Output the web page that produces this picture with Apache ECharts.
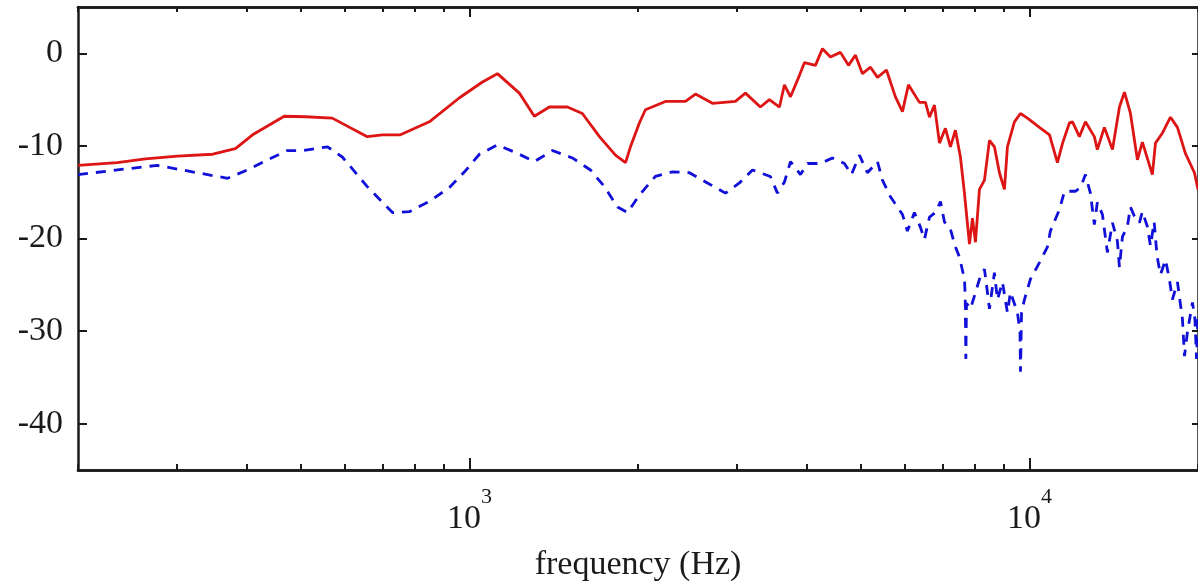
<!DOCTYPE html>
<html>
<head>
<meta charset="utf-8">
<script src="https://cdn.jsdelivr.net/npm/echarts@6/dist/echarts.min.js"></script>
<style>
  html, body { margin: 0; padding: 0; background: #fff; }
  #chart { width: 1198px; height: 587px; }
</style>
</head>
<body>
<div id="chart"></div>
<script>
// solid red curve
const redFreq = [200, 235, 264, 301, 348, 382, 410, 467, 510, 569, 657, 699, 753, 848, 960,
  1055, 1122, 1228, 1306, 1389, 1496, 1591, 1707, 1823, 1900, 1939, 2012, 2062, 2239, 2431,
  2533, 2716, 2985, 3111, 3308, 3433, 3578, 3652, 3744, 3853, 3966, 4148, 4270, 4412, 4598,
  4752, 4891, 5033, 5202, 5354, 5555, 5764, 5933, 6081, 6362, 6521, 6630, 6767, 6908, 7079,
  7226, 7376, 7530, 7655, 7815, 7912, 8010, 8143, 8312, 8485, 8660, 8840, 9024, 9135, 9402,
  9637, 9918, 10420, 10860, 11220, 11460, 11790, 11940, 12280, 12590, 13060, 13220, 13610,
  14070, 14480, 14780, 15150, 15590, 15910, 16580, 16790, 17280, 17860, 18380, 18990, 19710, 20000];
const redDb = [-12.1, -11.8, -11.4, -11.1, -10.9, -10.3, -8.8, -6.8, -6.85, -7.0, -9.0, -8.8, -8.8, -7.4, -4.8,
  -3.1, -2.2, -4.3, -6.8, -5.8, -5.8, -6.5, -9.0, -11.0, -11.8, -10.1, -7.5, -6.1, -5.2, -5.2,
  -4.4, -5.4, -5.2, -4.3, -5.8, -5.0, -5.8, -3.4, -4.7, -2.9, -1.0, -1.3, 0.5, -0.4, 0.1,
  -1.3, -0.2, -2.2, -1.5, -2.6, -1.8, -4.7, -6.3, -3.4, -5.3, -5.3, -6.9, -5.6, -9.7, -8.1,
  -10.1, -8.3, -11.2, -15.1, -20.6, -17.8, -20.4, -14.7, -13.7, -9.4, -10.1, -12.9, -14.7, -10.1, -7.4,
  -6.5, -7.0, -8.0, -8.8, -11.8, -9.7, -7.5, -7.4, -9.0, -7.4, -9.0, -10.4, -8.0,
  -10.4, -5.8, -4.2, -6.5, -11.5, -9.6, -13.1, -9.7, -8.6, -6.9, -8.0, -10.8, -12.9, -14.7];

// dashed blue curve
const blueFreq = [200, 235, 277, 320, 370, 401, 436, 473, 503, 558, 593, 657, 729, 781, 848,
  921, 980, 1042, 1122, 1218, 1306, 1407, 1527, 1645, 1742, 1838, 1915, 2012, 2148, 2304,
  2471, 2661, 2865, 3035, 3202, 3447, 3548, 3652, 3744, 3901, 4015, 4234, 4448, 4673, 4810,
  4971, 5137, 5354, 5464, 5647, 5933, 6055, 6232, 6389, 6494, 6630, 6795, 6937, 7050, 7226,
  7376, 7499, 7655, 7680, 7700, 7720, 7847, 7977, 8143, 8312, 8414, 8485, 8660, 8768, 8950,
  9135, 9250, 9519, 9620, 9640, 9680, 9797, 10040, 10420, 10770, 10900, 11310, 11550, 12080,
  12340, 12590, 12850, 13060, 13220, 13500, 13780, 14070, 14360, 14480, 14660, 14960, 15150,
  15400, 15720, 15910, 16240, 16450, 16700, 16900, 17140, 17500, 17780, 18000, 18380, 18760,
  18920, 19150, 19550, 19750, 19880, 20000];
const blueDb = [-13.1, -12.6, -12.1, -12.8, -13.5, -12.6, -11.5, -10.5, -10.5, -10.1, -11.2, -14.4, -17.2, -17.1, -16.0,
  -14.5, -12.8, -10.9, -9.9, -10.8, -11.7, -10.5, -11.3, -12.6, -14.4, -16.6, -17.2, -15.3, -13.3, -12.8,
  -12.9, -14.0, -15.1, -14.0, -12.6, -13.3, -15.1, -13.9, -11.7, -13.1, -11.9, -11.9, -11.3, -11.9, -13.1,
  -11.0, -12.9, -11.7, -13.7, -15.5, -17.4, -19.2, -17.2, -18.8, -20.1, -17.7, -17.2, -16.0, -18.2, -19.0,
  -20.9, -22.0, -24.4, -26.2, -33.0, -27.0, -27.6, -26.2, -24.4, -23.3, -25.8, -27.6, -23.7, -26.6, -24.7,
  -28.0, -25.8, -28.0, -30.1, -34.4, -28.0, -26.6, -24.4, -22.6, -20.9, -19.2, -16.9, -14.9, -14.9,
  -14.5, -13.1, -15.1, -18.5, -16.1, -17.4, -21.5, -18.3, -20.3, -23.1, -19.8, -18.7, -16.6,
  -17.6, -18.3, -17.1, -18.7, -20.8, -18.2, -21.9, -23.9, -22.3, -24.4, -26.6, -24.7, -28.7,
  -32.7, -30.1, -26.9, -28.7, -33.0, -28.0];

const minorTicks = [200, 300, 400, 500, 600, 700, 800, 900,
  2000, 3000, 4000, 5000, 6000, 7000, 8000, 9000, 20000];
const majorTicks = [1000, 10000];
const yTicks = [-40, -30, -20, -10, 0];

const ink = '#1a1a1a';
const serif = '"Liberation Serif", "DejaVu Serif", serif';

const zip = (xs, ys) => xs.map((x, i) => [x, ys[i]]);

function logAxis(position, tickValues, tickLen, withLabels) {
    return {
        type: 'log',
        logBase: 10,
        min: 200,
        max: 20000,
        position: position,
        axisLine: { onZero: false, lineStyle: { color: ink, width: 2.5 } },
        axisTick: { inside: true, length: tickLen, customValues: tickValues, lineStyle: { color: ink, width: 2 } },
        axisLabel: withLabels ? {
            customValues: majorTicks,
            margin: 16,
            formatter: v => '{b|10}{s|' + Math.round(Math.log10(v)) + '}',
            rich: {
                b: { fontFamily: serif, fontSize: 34, lineHeight: 66, color: ink },
                s: { fontFamily: serif, fontSize: 22, lineHeight: 20, verticalAlign: 'top', color: ink }
            }
        } : { show: false },
        splitLine: { show: false },
        minorTick: { show: false }
    };
}

function dbAxis(position, tickLen, withLabels) {
    return {
        type: 'value',
        min: -45,
        max: 5,
        position: position,
        axisLine: { show: true, onZero: false, lineStyle: { color: ink, width: 2.5 } },
        axisTick: { show: true, inside: true, length: tickLen, customValues: yTicks, lineStyle: { color: ink, width: 2 } },
        axisLabel: withLabels ? {
            customValues: yTicks,
            margin: 15,
            fontFamily: serif,
            fontSize: 34,
            color: ink
        } : { show: false },
        splitLine: { show: false }
    };
}

const chart = echarts.init(document.getElementById('chart'));

const bottomAxis = logAxis('bottom', minorTicks, 6, true);
bottomAxis.name = 'frequency (Hz)';
bottomAxis.nameLocation = 'middle';
bottomAxis.nameGap = 78;
bottomAxis.nameTextStyle = { fontFamily: serif, fontSize: 34, color: ink };

chart.setOption({
    animation: false,
    backgroundColor: '#fff',
    grid: { left: 78, right: 0, top: 7, bottom: 113 },
    xAxis: [
        bottomAxis,
        logAxis('bottom', majorTicks, 12, false),
        logAxis('top', minorTicks, 5, false),
        logAxis('top', majorTicks, 10, false)
    ],
    yAxis: [
        dbAxis('left', 9, true),
        dbAxis('right', 6, false)
    ],
    series: [
        {
            type: 'line',
            xAxisIndex: 0,
            yAxisIndex: 0,
            data: zip(blueFreq, blueDb),
            showSymbol: false,
            lineStyle: { color: '#1010d8', width: 2.8, type: [10, 8] }
        },
        {
            type: 'line',
            xAxisIndex: 0,
            yAxisIndex: 0,
            data: zip(redFreq, redDb),
            showSymbol: false,
            lineStyle: { color: '#dd1515', width: 2.8 }
        }
    ]
});
</script>
</body>
</html>
